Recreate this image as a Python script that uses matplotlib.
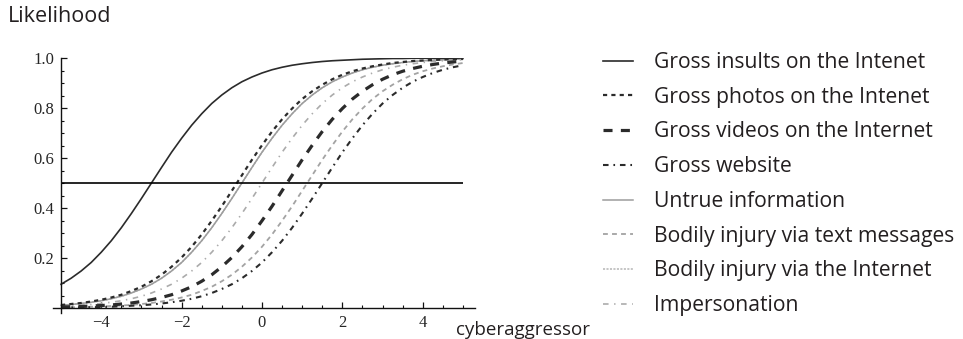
import matplotlib
matplotlib.use("Agg")
import matplotlib.pyplot as plt
from matplotlib.ticker import MultipleLocator, FixedLocator

plt.rcParams['lines.scale_dashes'] = False

x_vals = [-5, -4.75, -4.5, -4.25, -4, -3.75, -3.5, -3.25, -3, -2.75, -2.5, -2.25, -2, -1.75,
          -1.5, -1.25, -1, -0.75, -0.5, -0.25, 0, 0.25, 0.5, 0.75, 1, 1.25, 1.5, 1.75, 2,
          2.25, 2.5, 2.75, 3, 3.25, 3.5, 3.75, 4, 4.25, 4.5, 4.75, 5]

insults = [0.095, 0.119, 0.148, 0.182, 0.223, 0.269, 0.321, 0.378, 0.438, 0.5, 0.562, 0.623,
           0.679, 0.731, 0.777, 0.818, 0.852, 0.881, 0.905, 0.924, 0.940, 0.953, 0.963, 0.971,
           0.977, 0.982, 0.986, 0.989, 0.991, 0.993, 0.995, 0.996, 0.997, 0.998, 0.998, 0.999,
           0.999, 0.999, 0.999, 0.999, 1.0]
photos = [0.012, 0.016, 0.020, 0.026, 0.033, 0.042, 0.053, 0.068, 0.085, 0.107, 0.133, 0.165,
          0.202, 0.245, 0.294, 0.349, 0.407, 0.469, 0.531, 0.593, 0.651, 0.706, 0.755, 0.798,
          0.836, 0.867, 0.893, 0.915, 0.933, 0.947, 0.958, 0.967, 0.974, 0.980, 0.984, 0.988,
          0.990, 0.992, 0.994, 0.995, 0.996]
videos = [0.004, 0.005, 0.006, 0.008, 0.010, 0.012, 0.016, 0.020, 0.026, 0.033, 0.042, 0.053,
          0.068, 0.085, 0.107, 0.133, 0.165, 0.202, 0.245, 0.294, 0.349, 0.407, 0.469, 0.531,
          0.593, 0.651, 0.706, 0.755, 0.798, 0.836, 0.867, 0.893, 0.915, 0.933, 0.947, 0.958,
          0.967, 0.974, 0.980, 0.984, 0.988]
website = [0.002, 0.002, 0.003, 0.003, 0.004, 0.005, 0.007, 0.009, 0.011, 0.014, 0.018, 0.023,
           0.029, 0.037, 0.047, 0.060, 0.076, 0.095, 0.119, 0.148, 0.182, 0.223, 0.269, 0.321,
           0.378, 0.438, 0.5, 0.562, 0.623, 0.679, 0.731, 0.777, 0.818, 0.852, 0.881, 0.905,
           0.924, 0.940, 0.953, 0.963, 0.971]
untrue = [0.011, 0.014, 0.018, 0.023, 0.029, 0.037, 0.047, 0.060, 0.076, 0.095, 0.119, 0.148,
          0.182, 0.223, 0.269, 0.321, 0.378, 0.438, 0.5, 0.562, 0.623, 0.679, 0.731, 0.777,
          0.818, 0.852, 0.881, 0.905, 0.924, 0.940, 0.953, 0.963, 0.971, 0.977, 0.982, 0.986,
          0.989, 0.991, 0.993, 0.995, 0.996]
text_msgs = [0.002, 0.003, 0.004, 0.005, 0.006, 0.008, 0.010, 0.012, 0.016, 0.020, 0.026, 0.033,
             0.042, 0.053, 0.068, 0.085, 0.107, 0.133, 0.165, 0.202, 0.245, 0.294, 0.349, 0.407,
             0.469, 0.531, 0.593, 0.651, 0.706, 0.755, 0.798, 0.836, 0.867, 0.893, 0.915, 0.933,
             0.947, 0.958, 0.967, 0.974, 0.980]
# hidden under "Untrue information" in the picture
internet = [0.011, 0.014, 0.018, 0.023, 0.029, 0.037, 0.047, 0.060, 0.076, 0.095, 0.119, 0.148,
            0.182, 0.223, 0.269, 0.321, 0.378, 0.438, 0.5, 0.562, 0.623, 0.679, 0.731, 0.777,
            0.818, 0.852, 0.881, 0.905, 0.924, 0.940, 0.953, 0.963, 0.971, 0.977, 0.982, 0.986,
            0.989, 0.991, 0.993, 0.995, 0.996]
impersonation = [0.007, 0.009, 0.011, 0.014, 0.018, 0.023, 0.029, 0.037, 0.047, 0.060, 0.076,
                 0.095, 0.119, 0.148, 0.182, 0.223, 0.269, 0.321, 0.378, 0.438, 0.5, 0.562,
                 0.623, 0.679, 0.731, 0.777, 0.818, 0.852, 0.881, 0.905, 0.924, 0.940, 0.953,
                 0.963, 0.971, 0.977, 0.982, 0.986, 0.989, 0.991, 0.993]

labels = ['Gross insults on the Intenet', 'Gross photos on the Intenet',
          'Gross videos on the Internet', 'Gross website', 'Untrue information',
          'Bodily injury via text messages', 'Bodily injury via the Internet',
          'Impersonation']

threshold = 0.5
y_ticks = [0.2, 0.4, 0.6, 0.8, 1.0]
x_ticks = [-4, -2, 0, 2, 4]

dark = '#2b2b2b'
grey = '#9d9d9d'

fig = plt.figure(figsize=(9.63, 3.39), dpi=100)
ax = fig.add_axes([53 / 963, 26 / 339, 422 / 963, 255 / 339])

series = [insults, photos, videos, website, untrue, text_msgs, internet, impersonation]
styles = [
    dict(color=dark, lw=1.2, linestyle='-'),
    dict(color=dark, lw=1.6, linestyle=(0, (3, 3))),
    dict(color=dark, lw=2.3, linestyle=(0, (6.5, 6))),
    dict(color=dark, lw=1.5, linestyle=(0, (4, 3.5, 1.2, 3.5))),
    dict(color=grey, lw=1.1, linestyle='-'),
    dict(color='#a3a3a3', lw=1.3, linestyle=(0, (3.5, 3))),
    dict(color='#b5b5b5', lw=1.1, linestyle=(0, (1.5, 1))),
    dict(color='#ababab', lw=1.2, linestyle=(0, (4, 4, 1, 4))),
]

# grey ones first so the dark curves sit on top
order = [6, 4, 5, 7, 0, 1, 2, 3]
lines = {}
for i in order:
    ln, = ax.plot(x_vals, series[i], label=labels[i], **styles[i])
    lines[i] = ln
handles = [lines[i] for i in range(len(series))]

ax.hlines(threshold, x_vals[0], x_vals[-1], color='black', lw=1.2)

ax.set_xlim(-5.2, 5.3)
ax.set_ylim(-0.02, 1.0)
ax.spines['left'].set_position(('data', -5))
ax.spines['bottom'].set_position(('data', 0))
ax.spines['top'].set_visible(False)
ax.spines['right'].set_visible(False)
for s in ['left', 'bottom']:
    ax.spines[s].set_linewidth(1.0)
    ax.spines[s].set_color('#111111')

ax.xaxis.set_major_locator(FixedLocator(x_ticks))
ax.xaxis.set_minor_locator(MultipleLocator(0.5))
ax.yaxis.set_major_locator(FixedLocator(y_ticks))
ax.yaxis.set_minor_locator(MultipleLocator(0.05))
ax.set_xticklabels(['\u2212' + str(abs(t)) if t < 0 else str(t) for t in x_ticks])
ax.set_yticklabels(['%.1f' % t for t in y_ticks])
ax.tick_params(which='major', direction='in', length=4, width=0.9, color='#111111',
               labelsize=12, labelcolor='#262626', pad=5)
ax.tick_params(which='minor', direction='in', length=2.2, width=0.8, color='#111111')
for lab in ax.get_xticklabels() + ax.get_yticklabels():
    lab.set_family('Liberation Serif')

fig.text(8 / 963, 1 - 17 / 339, 'Likelihood', family='Open Sans', fontsize=15.5,
         color='#231f20', va='center', ha='left')
fig.text(456 / 963, 1 - 330 / 339, 'cyberaggressor', family='Open Sans', fontsize=13.5,
         color='#231f20', va='center', ha='left')

fig.legend(handles=handles, labels=labels, loc='upper left',
           bbox_to_anchor=(603 / 963, 1 - 52 / 339), frameon=False,
           borderpad=0, borderaxespad=0, handlelength=1.4, handletextpad=1.0,
           labelspacing=0.65, prop={'family': 'Open Sans', 'size': 15.2},
           labelcolor='#231f20')

fig.savefig('out.png', dpi=100)
